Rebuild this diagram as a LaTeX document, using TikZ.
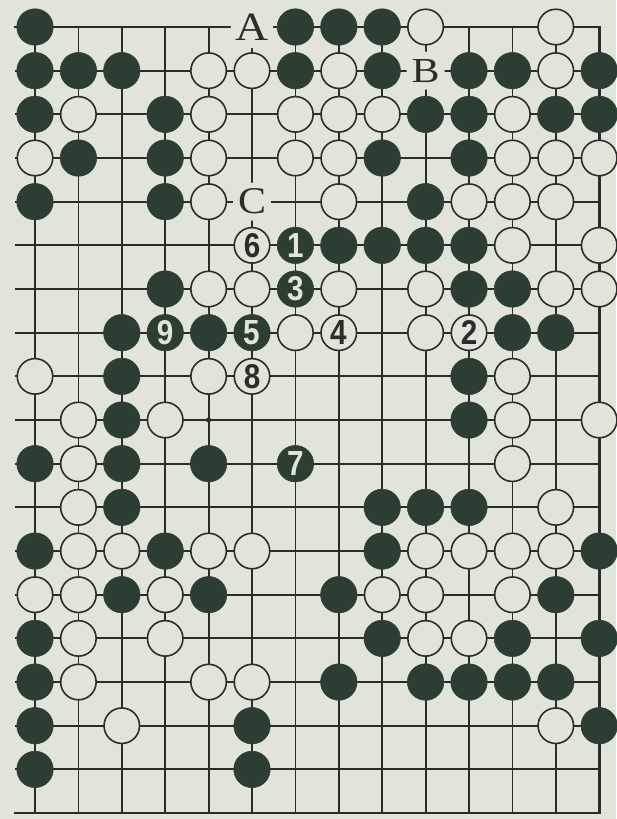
\documentclass[tikz,border=0pt]{standalone}
\usepackage{fontspec}
\setmainfont{Liberation Serif}
\newfontfamily\numfont{Liberation Sans}
\definecolor{bg}{HTML}{E1E4D9}
\definecolor{stoneB}{HTML}{2C3D31}
\definecolor{ln}{HTML}{2A2D2A}
\newcommand{\mvnum}[1]{\resizebox{16.5pt}{24pt}{\numfont\bfseries #1}}
\begin{document}
\begin{tikzpicture}[x=43.4pt,y=-43.67pt,
  gridline/.style={draw=ln,line width=1.8pt},
  edgeline/.style={draw=ln,line width=2.6pt,line cap=rect},
  bstone/.style={circle,fill=stoneB,draw=stoneB,line width=0.5pt,minimum size=36.5pt,inner sep=0pt},
  wstone/.style={circle,fill=bg,draw=ln,line width=1.6pt,minimum size=35.5pt,inner sep=0pt},
  bnum/.style={bstone,text=bg},
  wnum/.style={wstone,text=ln},
  lbl/.style={circle,fill=bg,minimum size=38pt,inner sep=0pt,text=ln}]
\fill[bg] (-0.8065,-0.6183) rectangle (13.387,18.136);
\useasboundingbox (-0.8065,-0.6183) rectangle (13.387,18.136);
% grid
\foreach \r in {1,...,17} \draw[gridline] (-0.46,\r) -- (13,\r);
\foreach \c in {0,...,12} \draw[gridline] (\c,0) -- (\c,18);
\draw[edgeline] (-0.46,0) -- (13,0) -- (13,18) -- (-0.46,18);
\fill[ln] (4,9) circle (2.6pt);
% black stones
\foreach \c/\r in {0/0,6/0,7/0,8/0,
  0/1,1/1,2/1,6/1,8/1,10/1,11/1,13/1,
  0/2,3/2,9/2,10/2,12/2,13/2,
  1/3,3/3,8/3,10/3,
  0/4,3/4,9/4,
  7/5,8/5,9/5,10/5,
  3/6,10/6,11/6,
  2/7,4/7,11/7,12/7,
  2/8,10/8,
  2/9,10/9,
  0/10,2/10,4/10,
  2/11,8/11,9/11,10/11,
  0/12,3/12,8/12,13/12,
  2/13,4/13,7/13,12/13,
  0/14,8/14,11/14,13/14,
  0/15,7/15,9/15,10/15,11/15,12/15,
  0/16,5/16,13/16,
  0/17,5/17}
  \node[bstone] (b\c-\r) at (\c,\r) {};
% white stones
\foreach \c/\r in {9/0,12/0,
  4/1,5/1,7/1,12/1,
  1/2,4/2,6/2,7/2,8/2,11/2,
  0/3,4/3,6/3,7/3,11/3,12/3,13/3,
  4/4,7/4,10/4,11/4,12/4,
  11/5,13/5,
  4/6,5/6,7/6,9/6,12/6,13/6,
  6/7,9/7,
  0/8,4/8,11/8,
  1/9,3/9,11/9,13/9,
  1/10,11/10,
  1/11,12/11,
  1/12,2/12,4/12,5/12,9/12,10/12,11/12,12/12,
  0/13,1/13,3/13,8/13,9/13,11/13,
  1/14,3/14,9/14,10/14,
  1/15,4/15,5/15,
  2/16,12/16}
  \node[wstone] (w\c-\r) at (\c,\r) {};
% numbered moves
\foreach \n/\c/\r in {1/6/5,3/6/6,5/5/7,7/6/10,9/3/7}
  \node[bnum] (m\n) at (\c,\r) {\mvnum{\n}};
\foreach \n/\c/\r in {2/10/7,4/7/7,6/5/5,8/5/8}
  \node[wnum] (m\n) at (\c,\r) {\mvnum{\n}};
% letters
\node[lbl] (lA) at (5,0) {\resizebox{33pt}{26.5pt}{A}};
\node[lbl] (lB) at (9,1) {\resizebox{28pt}{23pt}{B}};
\node[lbl] (lC) at (5,4) {\resizebox{28pt}{25pt}{C}};
\end{tikzpicture}
\end{document}
